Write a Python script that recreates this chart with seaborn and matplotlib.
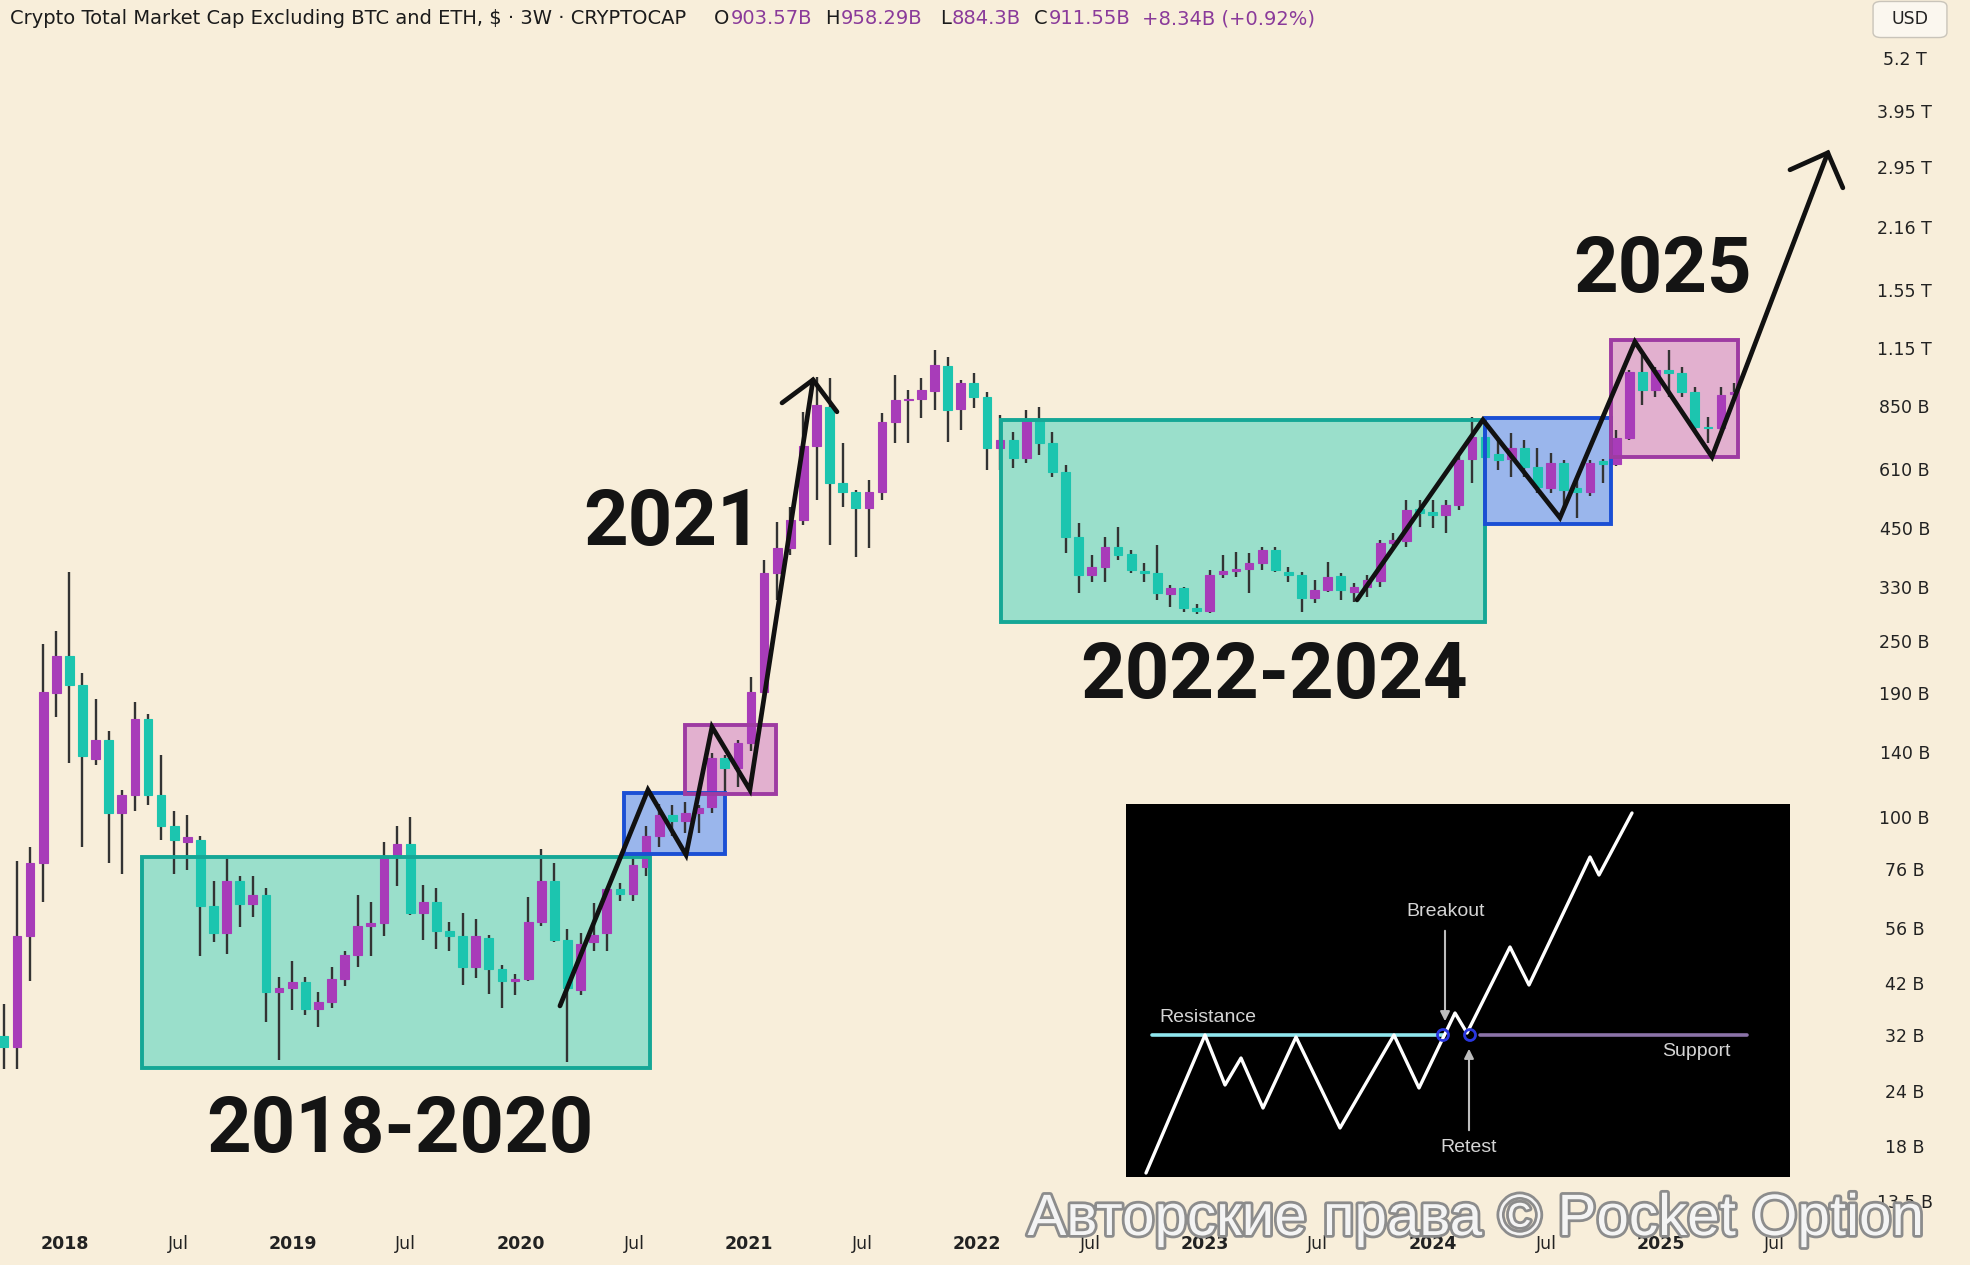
import numpy as np
import pandas as pd
import matplotlib
matplotlib.use("Agg")
import matplotlib.pyplot as plt
import matplotlib.dates as mdates
import matplotlib.ticker as mticker
import matplotlib.patheffects as pe
from matplotlib.patches import Rectangle, FancyBboxPatch, Circle
import seaborn as sns

W, H = 1970, 1265

# ---------------- data (billions USD, 3-week candles) ----------------
start_date = "2017-09-25"
opens = [31.9, 30.1, 53.7, 78.6, 190, 231, 198, 135, 149, 102, 112, 166, 112, 95.3, 87.7, 88.6, 62.8, 54.5, 71.5, 63.5,
         66.5, 40.1, 41.0, 42.3, 36.7, 38.1, 42.9, 48.6, 56.6, 57.5, 81.5, 86.8, 60.5, 64.1, 55.1, 53.7, 45.7, 53.1, 45.2, 42.5,
         42.9, 57.8, 71.5, 52.6, 40.5, 52.1, 54.5, 68.5, 66.9, 77.0, 90.4, 100.8, 97.8, 101.9, 105, 136, 128.8, 146.8, 191, 355,
         405, 469, 689, 845, 568, 542, 499, 542, 781, 875, 880, 915, 1045, 835, 957, 889, 682, 711, 648, 789,
         700, 602, 429, 352, 366, 407, 393, 360, 355, 319, 329, 296, 292, 354, 359, 363, 375, 401, 358, 352,
         312, 326, 350, 322, 331, 341, 416, 420, 497, 488, 482, 507, 645, 722, 660, 645, 682, 618, 552, 631,
         552, 542, 638, 628, 718, 1013, 922, 1024, 1008, 913, 761, 757, 903.57]
highs = [37.7, 79.4, 85.4, 245, 263, 357, 211, 184, 156, 115, 182, 171, 138, 103, 101, 90.4, 71.5, 81.5, 73.5, 73.5,
         69.0, 43.4, 47.2, 43.4, 40.1, 45.7, 49.6, 66.5, 64.1, 87.7, 95.3, 99.8, 70.0, 69.0, 57.8, 60.5, 58.7, 54.0, 46.2, 44.1,
         65.8, 84.5, 78.6, 55.7, 54.5, 63.8, 69.0, 70.8, 80.6, 95.3, 106.7, 106.0, 108, 106, 139, 137.5, 149, 207, 381, 464,
         502, 822, 987, 982, 700, 548, 577, 818, 997, 922, 982, 1136, 1095, 972, 1008, 913, 810, 741, 831, 844,
         741, 624, 462, 391, 429, 452, 401, 375, 411, 334, 331, 302, 361, 391, 397, 395, 407, 407, 366, 357,
         343, 377, 355, 338, 352, 422, 438, 520, 520, 520, 520, 658, 801, 789, 711, 737, 711, 682, 665, 641,
         583, 641, 645, 749, 1024, 1108, 1040, 1136, 1040, 937, 801, 937, 958.29]
lows = [26.9, 26.9, 42.5, 64.1, 168, 132, 85.4, 131, 78.6, 74.2, 103, 106, 88.6, 74.2, 75.8, 48.4, 52.1, 48.9, 56.3, 59.3,
        34.3, 28.1, 36.5, 35.6, 33.5, 36.9, 41.4, 45.7, 48.4, 53.7, 69.7, 59.9, 52.6, 50.2, 49.6, 41.6, 43.1, 39.7, 36.9, 39.5,
        42.5, 56.6, 52.1, 27.8, 39.5, 49.6, 49.6, 64.5, 64.5, 73.5, 85.4, 90.4, 91.9, 91.9, 101.9, 113, 116.8, 141, 187, 309,
        391, 457, 520, 411, 502, 387, 405, 520, 700, 700, 797, 831, 704, 749, 840, 608, 608, 614, 631, 658,
        586, 395, 320, 340, 340, 381, 355, 340, 309, 298, 290, 287, 289, 347, 349, 320, 361, 357, 340, 290,
        304, 322, 309, 306, 314, 331, 405, 407, 452, 450, 438, 494, 568, 548, 608, 586, 586, 540, 540, 502,
        474, 532, 568, 620, 711, 853, 889, 889, 889, 749, 700, 749, 884.3]
closes = [30.1, 53.7, 78.6, 191, 231, 198, 137, 149, 102, 112, 166, 112, 95.3, 88.6, 90.0, 62.8, 54.5, 71.5, 63.5, 66.5,
          40.1, 41.0, 42.3, 36.7, 38.1, 42.9, 48.6, 56.6, 57.5, 81.5, 86.8, 60.5, 64.1, 55.1, 53.7, 45.7, 53.7, 45.2, 42.5, 42.9,
          57.8, 71.5, 52.6, 41.0, 51.5, 54.0, 68.5, 66.9, 77.8, 90.4, 100.8, 97.8, 101.9, 104.6, 136, 128.8, 146.8, 191, 355, 405,
          469, 689, 853, 568, 542, 499, 542, 781, 875, 880, 922, 1050, 831, 957, 889, 682, 711, 648, 789, 700,
          602, 429, 352, 366, 407, 391, 361, 355, 321, 329, 296, 292, 352, 359, 363, 375, 401, 361, 352, 312,
          326, 349, 326, 331, 343, 416, 422, 494, 486, 482, 507, 641, 722, 651, 641, 682, 618, 556, 631, 548,
          542, 631, 628, 718, 1013, 922, 1024, 1008, 913, 761, 757, 898, 911.55]

ytick_values = [5200, 3950, 2950, 2160, 1550, 1150, 850, 610, 450, 330, 250, 190, 140, 100, 76, 56, 42, 32, 24, 18, 13.5]
ytick_labels = ["5.2 T", "3.95 T", "2.95 T", "2.16 T", "1.55 T", "1.15 T", "850 B", "610 B", "450 B", "330 B", "250 B",
                "190 B", "140 B", "100 B", "76 B", "56 B", "42 B", "32 B", "24 B", "18 B", "13.5 B"]
tick_years = [2018, 2019, 2020, 2021, 2022, 2023, 2024, 2025]

# header
header_title = "Crypto Total Market Cap Excluding BTC and ETH, $ · 3W · CRYPTOCAP"
ohlc_letters = ["O", "H", "L", "C"]
ohlc_values = ["903.57B", "958.29B", "884.3B", "911.55B"]
change_text = "+8.34B (+0.92%)"

# consolidation / breakout boxes: (start year, end year, low, high)
box_x0 = [2018.338, 2020.452, 2020.719, 2022.105, 2024.228, 2024.781]
box_x1 = [2020.566, 2020.895, 2021.118, 2024.228, 2024.781, 2025.338]
box_lo = [27.0, 82.3, 112.5, 275.6, 459, 651]
box_hi = [81.0, 113, 161, 789, 797, 1197]
box_kind = ["teal", "blue", "pink", "teal", "blue", "pink"]

# hand-drawn zig-zag paths
zigA_t = [2020.171, 2020.557, 2020.724, 2020.838, 2021.004, 2021.281]
zigA_v = [37.3, 114.9, 81.9, 159.5, 114.9, 972]
headA_t = [2021.145, 2021.281, 2021.386]
headA_v = [862, 972, 823]
zigB_t = [2023.667, 2024.219, 2024.557, 2024.886, 2025.224, 2025.732]
zigB_v = [309, 789, 474, 1185, 651, 3170]
headB_t = [2025.566, 2025.732, 2025.798]
headB_v = [2902, 3170, 2642]

# schematic inset (in image-pixel units of the inset panel)
inset_zig_x = [1146, 1205, 1225, 1241, 1263, 1296, 1340, 1394, 1419, 1455, 1467, 1510, 1529, 1590, 1599, 1632]
inset_zig_y = [1173, 1035, 1085, 1058, 1108, 1037, 1128, 1035, 1088, 1013, 1033, 947, 985, 857, 875, 813]

# ---------------- style ----------------
sns.set_theme(style="white")
plt.rcParams["font.family"] = ["DejaVu Sans"]

BG = "#F8EEDA"
UP = "#A83CB9"
DOWN = "#1CC5AF"
WICK = "#333333"
FILL = {"teal": "#9ADFCB", "blue": "#9AB6EC", "pink": "#E2B0CF"}
EDGE = {"teal": "#15A796", "blue": "#1B4FD4", "pink": "#9E3BA2"}

fig = plt.figure(figsize=(W / 100, H / 100), dpi=100, facecolor=BG)
ax = fig.add_axes([0, 40 / H, 1870 / W, 1225 / H])
ax.set_facecolor(BG)
for s in ax.spines.values():
    s.set_visible(False)
ax.set_yscale("log")


def yr(t):
    return mdates.date2num(pd.Timestamp("2018-01-01") + pd.Timedelta(days=(t - 2018) * 365.25))


# boxes (fill below candles, outline above)
for x0, x1, lo, hi, k in zip(box_x0, box_x1, box_lo, box_hi, box_kind):
    a, b = yr(x0), yr(x1)
    ax.add_patch(Rectangle((a, lo), b - a, hi - lo, facecolor=FILL[k], edgecolor="none", zorder=1))
    ax.add_patch(Rectangle((a, lo), b - a, hi - lo, facecolor="none", edgecolor=EDGE[k], lw=2.8, zorder=5))

# candles
dates = pd.date_range(start_date, periods=len(opens), freq="21D")
xs = mdates.date2num(dates)
o, h, l, c = map(np.asarray, (opens, highs, lows, closes))
up = c >= o
blo, bhi = np.minimum(o, c), np.maximum(o, c)
ax.vlines(xs, l, h, color=WICK, lw=1.7, zorder=3)
ax.bar(xs[up], (bhi - blo)[up], bottom=blo[up], width=14, color=UP, edgecolor=UP, lw=0.8, zorder=4)
ax.bar(xs[~up], (bhi - blo)[~up], bottom=blo[~up], width=14, color=DOWN, edgecolor=DOWN, lw=0.8, zorder=4)

# zig-zag paths
for tt, vv in [(zigA_t, zigA_v), (headA_t, headA_v), (zigB_t, zigB_v), (headB_t, headB_v)]:
    sns.lineplot(x=[yr(t) for t in tt], y=vv, sort=False, estimator=None, color="#111111",
                 lw=3.4, ax=ax, zorder=6, solid_joinstyle="miter")

# axes
ax.set_xlim(yr(2017.715), yr(2025.917))
ax.set_ylim(11.92, 7026)
xt, xl = [], []
for y in tick_years:
    xt += [mdates.date2num(pd.Timestamp(f"{y}-01-01")), mdates.date2num(pd.Timestamp(f"{y}-07-01"))]
    xl += [str(y), "Jul"]
ax.set_xticks(xt)
ax.set_xticklabels(xl)
for lbl in ax.get_xticklabels():
    if lbl.get_text() != "Jul":
        lbl.set_fontweight("bold")
ax.tick_params(axis="x", length=0, pad=7, labelsize=12.5, labelcolor="#222222")
ax.yaxis.tick_right()
ax.set_yticks(ytick_values)
ax.set_yticklabels(ytick_labels)
ax.yaxis.set_minor_locator(mticker.NullLocator())
ax.tick_params(axis="y", length=0, pad=25, labelsize=12.5, labelcolor="#222222")
for lbl in ax.get_yticklabels():
    lbl.set_horizontalalignment("center")
ax.set_xlabel("")
ax.set_ylabel("")
ax.grid(False)


def fpos(x, y):
    return x / W, 1 - y / H


# big period labels
for s, (px, py) in [("2018-2020", (400, 1131)), ("2021", (673, 524)),
                    ("2022-2024", (1274, 677)), ("2025", (1662, 271))]:
    fig.text(*fpos(px, py), s, fontsize=56, fontweight="bold", family=["Roboto", "DejaVu Sans"],
             color="#141414", ha="center", va="center", zorder=10)

# header line
renderer = fig.canvas.get_renderer()
PURPLE = "#8A3A9A"
DARK = "#1b1b1b"
HFS = 14
fig.text(*fpos(10, 19), header_title, fontsize=HFS, color=DARK, ha="left", va="center", zorder=10)
for letter, val, x0 in zip(ohlc_letters, ohlc_values, [714, 825, 940, 1034]):
    t = fig.text(*fpos(x0, 19), letter, fontsize=HFS, color=DARK, ha="left", va="center", zorder=10)
    wl = t.get_window_extent(renderer).width
    fig.text(*fpos(x0 + wl + 1, 19), val, fontsize=HFS, color=PURPLE, ha="left", va="center", zorder=10)
fig.text(*fpos(1142, 19), change_text, fontsize=HFS, color=PURPLE, ha="left", va="center", zorder=10)

# USD badge
fig.patches.append(FancyBboxPatch((1877 / W, 1 - 35 / H), 66 / W, 31 / H,
                                  boxstyle="round,pad=0.002,rounding_size=0.004",
                                  transform=fig.transFigure, facecolor="#FBF7EF",
                                  edgecolor="#C9C4BA", lw=1.0, zorder=9))
fig.text(*fpos(1910, 19), "USD", fontsize=12.5, color="#222222", ha="center", va="center", zorder=10)

# inset schematic
ax2 = fig.add_axes([1126 / W, 1 - 1177 / H, 664 / W, 373 / H])
ax2.set_facecolor("black")
ax2.set_xticks([])
ax2.set_yticks([])
for s in ax2.spines.values():
    s.set_visible(False)
ax2.plot([1152, 1443], [1035, 1035], color="#8FE6EE", lw=2.6, zorder=2)
ax2.plot([1480, 1747], [1035, 1035], color="#8B73A8", lw=2.6, zorder=2)
sns.lineplot(x=inset_zig_x, y=inset_zig_y, sort=False, estimator=None, color="white", lw=2.4, ax=ax2, zorder=3)
for cxp in (1443, 1470):
    ax2.add_patch(Circle((cxp, 1035), 5.5, facecolor="none", edgecolor="#2A37E0", lw=2, zorder=4))
ax2.set_xlim(1126, 1790)
ax2.set_ylim(1177, 804)
ax2.set_xlabel("")
ax2.set_ylabel("")
tcol = "#D4D4D4"
ifont = ["Liberation Sans", "DejaVu Sans"]
ax2.text(1159, 1018, "Resistance", color=tcol, fontsize=14, family=ifont, ha="left", va="center")
ax2.text(1662, 1052, "Support", color=tcol, fontsize=14, family=ifont, ha="left", va="center")
ax2.text(1446, 912, "Breakout", color=tcol, fontsize=14, family=ifont, ha="center", va="center")
ax2.text(1469, 1148, "Retest", color=tcol, fontsize=14, family=ifont, ha="center", va="center")
ax2.annotate("", xy=(1445, 1024), xytext=(1445, 928),
             arrowprops=dict(arrowstyle="-|>", color="#BDBDBD", lw=1.5, mutation_scale=14))
ax2.annotate("", xy=(1469, 1046), xytext=(1469, 1133),
             arrowprops=dict(arrowstyle="-|>", color="#BDBDBD", lw=1.5, mutation_scale=14))

# watermark
fig.text(*fpos(1476, 1220), "Авторские права © Pocket Option", fontsize=42,
         family=["Liberation Sans", "DejaVu Sans"], color="#F4F4F4", ha="center", va="center", zorder=20,
         path_effects=[pe.withStroke(linewidth=4, foreground="#8C8C8C")])

fig.savefig("out.png", dpi=100, facecolor=BG)
